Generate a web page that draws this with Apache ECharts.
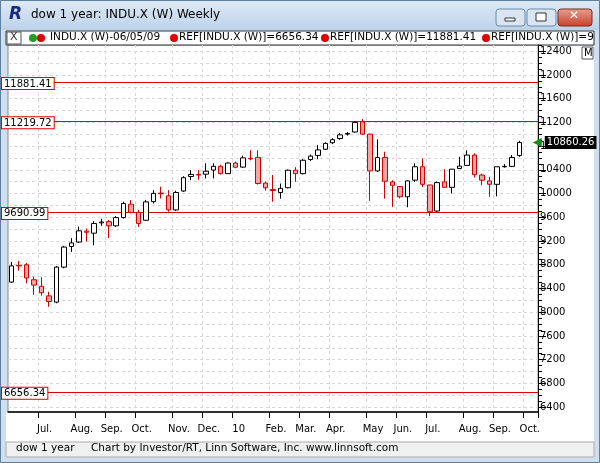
<!DOCTYPE html>
<html><head><meta charset="utf-8">
<script src="https://cdn.jsdelivr.net/npm/echarts@6/dist/echarts.min.js"></script>
<style>html,body{margin:0;padding:0;background:#fff}#c{width:600px;height:463px}</style>
</head><body><div id="c"></div>
<script>
// weekly bars, first = 2009-06-05
const startDate = '2009-06-05';
const opens  = [8507,8790,8800,8547,8437,8275,8170,8760,9108,9182,9366,9332,9506,9526,9456,9595,9821,9682,9550,9864,10008,9962,9725,10043,10287,10322,10327,10396,10460,10336,10515,10446,10595,10610,10177,10068,10018,10099,10394,10336,10574,10643,10747,10857,10928,11003,11038,11209,11002,10382,10608,10197,10118,9946,10226,10452,10145,9705,10197,10105,10423,10475,10649,10313,10214,10156,10452,10458,10640];
const closes = [8780,8780,8577,8457,8328,8180,8760,9098,9168,9372,9347,9496,9521,9456,9595,9834,9682,9497,9860,10003,9998,9725,10018,10267,10322,10312,10377,10460,10336,10515,10445,10602,10585,10169,10098,10053,10088,10394,10336,10562,10632,10736,10846,10909,10990,11013,11198,11002,10382,10608,10209,10139,9946,10214,10452,10156,9694,10185,10105,10411,10463,10649,10319,10226,10156,10452,10458,10608,10860.26];
const lows   = [8497,8700,8487,8294,8277,8091,8150,8740,9015,9166,9192,9128,9456,9252,9436,9580,9665,9438,9540,9833,9918,9694,9710,10028,10226,10232,10255,10255,10322,10331,10426,10436,10560,10152,10048,9861,9914,10088,10197,10322,10550,10579,10734,10834,10908,10978,11028,10988,9878,10366,9914,9774,9918,9770,10197,10110,9618,9690,10098,10001,10416,10466,10270,10139,9946,9953,10436,10446,10620];
const highs  = [8847,8864,8830,8599,8589,8345,8780,9118,9248,9444,9412,9536,9576,9554,9620,9864,9890,9723,9894,10058,10116,10058,10048,10292,10394,10396,10510,10510,10486,10526,10540,10640,10730,10730,10202,10313,10169,10406,10446,10580,10660,10817,10864,10934,11018,11038,11221,11256,11008,10915,10706,10226,10128,10222,10510,10591,10148,10202,10411,10416,10620,10730,10680,10336,10284,10456,10496,10650,10890];
const refLevels = [6656.34, 9690.99, 11219.72, 11881.41];
const lastPrice = 10860.26;
const yLabelValues = [6400,6800,7200,7600,8000,8400,8800,9200,9600,10000,10400,10800,11200,11600,12000,12400];
const monthLabels = ['10','Feb.','Mar.','Apr.','May','Jun.','Jul.','Aug.','Sep.','Oct.','Nov.','Dec.'];
const slots = 71;

const dates = [];
{ const d0 = new Date(startDate + 'T12:00:00Z');
  for (let i = 0; i < slots; i++) { const d = new Date(d0.getTime() + i*7*86400000); dates.push(d.toISOString().slice(0,10)); } }
const firstOfMonth = dates.map((d,i)=> i>0 && d.slice(5,7)!==dates[i-1].slice(5,7));
const candleData = dates.map((d,i)=> i<opens.length ? [opens[i],closes[i],lows[i],highs[i]] : '-');
const tick100 = []; for (let v=6400; v<=12500; v+=100) tick100.push(v);
const split200 = []; for (let v=6400; v<=12400; v+=200) split200.push(v);

const F = 'DejaVu Sans';
const chart = echarts.init(document.getElementById('c'), null, {renderer:'canvas'});
const YMIN = 6317, YMAX = 12505;
chart.setOption({
  animation:false,
  backgroundColor:'#cfdff0',
  grid:{left:8, right:62, top:45, bottom:51, show:true, backgroundColor:'#fff', borderColor:'#888', borderWidth:1},
  xAxis:{type:'category', data:dates, boundaryGap:true,
    axisLine:{lineStyle:{color:'#000', width:1.5}},
    axisTick:{show:true, interval:(i)=>firstOfMonth[i], length:6, lineStyle:{color:'#000'}},
    axisLabel:{interval:(i)=>firstOfMonth[i], formatter:(v)=>monthLabels[(+v.slice(5,7))-1], color:'#000', fontFamily:F, fontSize:10, margin:12, padding:[0,0,0,6]},
    splitLine:{show:true, interval:(i)=>firstOfMonth[i], lineStyle:{color:'#d8d8d8', type:[3,3]}}
  },
  yAxis:[
    {type:'value', position:'right', min:YMIN, max:YMAX, scale:true,
     axisLine:{show:true, lineStyle:{color:'#000'}},
     axisTick:{show:true, customValues:tick100, length:4, lineStyle:{color:'#000'}},
     axisLabel:{show:false},
     splitLine:{show:false}},
    {type:'value', position:'right', min:YMIN, max:YMAX, scale:true,
     axisLine:{show:false},
     axisTick:{show:true, customValues:yLabelValues, length:8, lineStyle:{color:'#000'}},
     axisLabel:{customValues:yLabelValues, formatter:(v)=>String(v), color:'#000', fontFamily:F, fontSize:10, margin:2, verticalAlign:'middle'},
     splitLine:{show:false}},
    {type:'value', position:'right', min:YMIN, max:YMAX, scale:true, show:true,
     axisLine:{show:false}, axisLabel:{show:false},
     axisTick:{show:false, customValues:split200},
     splitLine:{show:true, lineStyle:{color:'#d8d8d8', type:[3,3]}}}
  ],
  series:[{
    type:'candlestick', data:candleData, barWidth:5, yAxisIndex:0, z:5,
    itemStyle:{color:'#fff', borderColor:'#000', color0:'#f2a6a6', borderColor0:'#d40000', borderWidth:1},
    markLine:{silent:true, symbol:['none','none'],
      data:refLevels.map(v=>({yAxis:v, lineStyle:{color:'#e00000', width:1, type:'solid'},
          label:{show:true, position:'insideStartTop', formatter:v.toFixed(2), color:'#000', fontFamily:F, fontSize:10,
            backgroundColor:'#fff', borderColor:'#e00000', borderWidth:1, padding:[1,2,0,2], distance:[-6,-7]}}))},
    markPoint:{silent:true, z:20,
      data:[{coord:[dates[slots-1], lastPrice], symbol:'triangle', symbolSize:[9,9], symbolRotate:90, symbolOffset:[3,0],
        itemStyle:{color:'#109010'},
        label:{show:true, position:'right', distance:3, formatter:lastPrice.toFixed(2), color:'#fff', backgroundColor:'#000', fontFamily:F, fontSize:10, padding:[2,2,1,2]}}]}
  }],
  graphic:[
    {type:'rect', shape:{x:0,y:0,width:600,height:30}, style:{fill:{type:'linear',x:0,y:0,x2:0,y2:1,colorStops:[{offset:0,color:'#dfeaf6'},{offset:1,color:'#bcd2ea'}]}}, z:-1},
    {type:'rect', shape:{x:0.5,y:0.5,width:599,height:462}, style:{fill:'none', stroke:'#5f7f9f'}},
    {type:'text', x:9, y:6, style:{text:'R', font:'italic bold 17px '+F, fill:'#1a2a80'}},
    {type:'text', x:31, y:9, style:{text:'dow 1 year: INDU.X (W) Weekly', font:'12px '+F, fill:'#000'}},
    {type:'rect', shape:{x:496,y:9,width:29,height:17,r:3}, style:{fill:'#d9e5f2', stroke:'#6d8bab'}},
    {type:'rect', shape:{x:505,y:18,width:10,height:3}, style:{fill:'#fff', stroke:'#333'}},
    {type:'rect', shape:{x:527,y:9,width:29,height:17,r:3}, style:{fill:'#d9e5f2', stroke:'#6d8bab'}},
    {type:'rect', shape:{x:536,y:13,width:10,height:8}, style:{fill:'#fff', stroke:'#333'}},
    {type:'rect', shape:{x:558,y:9,width:34,height:17,r:3}, style:{fill:{type:'linear',x:0,y:0,x2:0,y2:1,colorStops:[{offset:0,color:'#e8a090'},{offset:1,color:'#c8402a'}]}, stroke:'#7a2a20'}},
    {type:'text', x:569, y:10, style:{text:'✕', font:'bold 12px '+F, fill:'#fff'}},
    {type:'rect', shape:{x:6,y:31,width:588,height:14}, style:{fill:'#fff', stroke:'#333'}},
    {type:'rect', shape:{x:7,y:32,width:14,height:12}, style:{fill:'#fff', stroke:'#555'}},
    {type:'text', x:10, y:32, style:{text:'X', font:'11px '+F, fill:'#333'}},
    {type:'circle', shape:{cx:33,cy:38,r:4}, style:{fill:'#20a020'}},
    {type:'circle', shape:{cx:41,cy:38,r:4}, style:{fill:'#e00000'}},
    {type:'text', x:50, y:32, style:{text:'INDU.X (W)-06/05/09', font:'10.5px '+F, fill:'#000'}},
    {type:'circle', shape:{cx:174,cy:38,r:4}, style:{fill:'#e00000'}},
    {type:'text', x:179, y:32, style:{text:'REF[INDU.X (W)]=6656.34', font:'10.5px '+F, fill:'#000'}},
    {type:'circle', shape:{cx:325,cy:38,r:4}, style:{fill:'#e00000'}},
    {type:'text', x:330, y:32, style:{text:'REF[INDU.X (W)]=11881.41', font:'10.5px '+F, fill:'#000'}},
    {type:'circle', shape:{cx:486,cy:38,r:4}, style:{fill:'#e00000'}},
    {type:'text', x:491, y:32, style:{text:'REF[INDU.X (W)]=9', font:'10.5px '+F, fill:'#000'}},
    {type:'rect', shape:{x:538,y:46,width:56,height:366}, style:{fill:'#fff'}, z:-1},
    {type:'rect', shape:{x:6,y:412,width:588,height:30}, style:{fill:'#fff'}, z:-1},
    {type:'rect', shape:{x:582,y:47,width:11,height:12}, style:{fill:'#fff', stroke:'#555'}},
    {type:'text', x:584, y:48, style:{text:'M', font:'10px '+F, fill:'#000'}},
    {type:'rect', shape:{x:6,y:442,width:588,height:15}, style:{fill:'#f0f0f0', stroke:'#aaa'}, z:-1},
    {type:'text', x:16, y:443, style:{text:'dow 1 year', font:'10.5px '+F, fill:'#000'}},
    {type:'text', x:91, y:443, style:{text:'Chart by Investor/RT, Linn Software, Inc. www.linnsoft.com', font:'10.5px '+F, fill:'#000'}}
  ]
});
</script></body></html>
